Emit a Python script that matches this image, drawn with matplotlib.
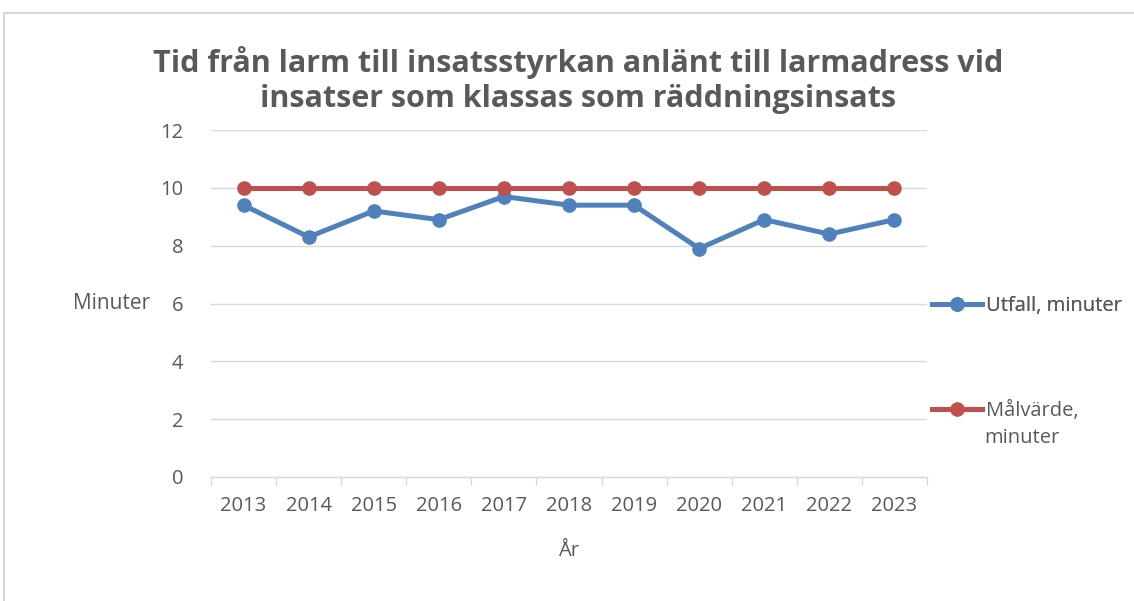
import matplotlib.pyplot as plt
from matplotlib.lines import Line2D
from matplotlib.patches import Rectangle

years = ['2013', '2014', '2015', '2016', '2017', '2018', '2019', '2020', '2021', '2022', '2023']
utfall = [9.4, 8.3, 9.2, 8.9, 9.7, 9.4, 9.4, 7.9, 8.9, 8.4, 8.9]
malvarde = [10, 10, 10, 10, 10, 10, 10, 10, 10, 10, 10]

blue = '#4F81BD'
red = '#C0504D'
txt = '#595959'
grid = '#D9D9D9'
fs = 14.5

plt.rcParams['font.family'] = ['Open Sans', 'DejaVu Sans']

fig = plt.figure(figsize=(11.34, 6.01), dpi=100)
fig.patches.append(Rectangle((4 / 1134, -0.1), 1.2, (1 - 13 / 601) + 0.1,
                             transform=fig.transFigure, fill=False,
                             edgecolor='#D0D0D0', linewidth=1.2))

ax = fig.add_axes([211 / 1134, 1 - 477 / 601, 716 / 1134, 347 / 601])
x = list(range(len(years)))
ax.plot(x, utfall, color=blue, linewidth=3.6, marker='o', markersize=9.5, zorder=3)
ax.plot(x, malvarde, color=red, linewidth=3.6, marker='o', markersize=9.5, zorder=3)

ax.set_xlim(-0.5, len(years) - 0.5)
ax.set_ylim(0, 12)
ax.set_yticks(range(0, 13, 2))
ax.set_xticks(x)
ax.set_xticklabels(years)
ax.set_xticks([i - 0.5 for i in range(len(years) + 1)], minor=True)
ax.tick_params(axis='x', which='major', length=0, pad=14, labelsize=fs, labelcolor=txt)
ax.tick_params(axis='x', which='minor', length=6, color=grid, width=1)
ax.tick_params(axis='y', length=0, pad=20, labelsize=fs, labelcolor=txt)
ax.grid(axis='y', color=grid, linewidth=1)
ax.set_axisbelow(True)
for s in ['top', 'right', 'left']:
    ax.spines[s].set_visible(False)
ax.spines['bottom'].set_color(grid)
ax.spines['bottom'].set_linewidth(1)

ax.set_xlabel('År', fontsize=fs, color=txt, labelpad=18)
ax.set_ylabel('Minuter', fontsize=15, color=txt, rotation=0, ha='right', va='center')
ax.yaxis.set_label_coords(-0.085, 0.5)

fig.suptitle('Tid från larm till insatsstyrkan anlänt till larmadress vid\ninsatser som klassas som räddningsinsats',
             x=0.51, y=1 - 80 / 601, va='center', fontsize=22, fontweight='bold', color=txt, linespacing=1.2)

# legend
h1 = Line2D([], [], color=blue, linewidth=3.6, marker='o', markersize=9.5)
h2 = Line2D([], [], color=red, linewidth=3.6, marker='o', markersize=9.5)
leg1 = fig.legend([h1], ['Utfall, minuter'], loc='center left', bbox_to_anchor=(914 / 1134, 1 - 306 / 601),
                  frameon=False, fontsize=fs, labelcolor=txt, handlelength=2.5, handletextpad=0.2)
fig.add_artist(leg1)
fig.legend([h2], ['Målvärde,'], loc='center left', bbox_to_anchor=(914 / 1134, 1 - 411 / 601),
           frameon=False, fontsize=fs, labelcolor=txt, handlelength=2.5, handletextpad=0.2)
fig.text(984 / 1134, 1 - 438 / 601, 'minuter', fontsize=fs, color=txt, va='center', ha='left')

fig.savefig('out.png', dpi=100)
